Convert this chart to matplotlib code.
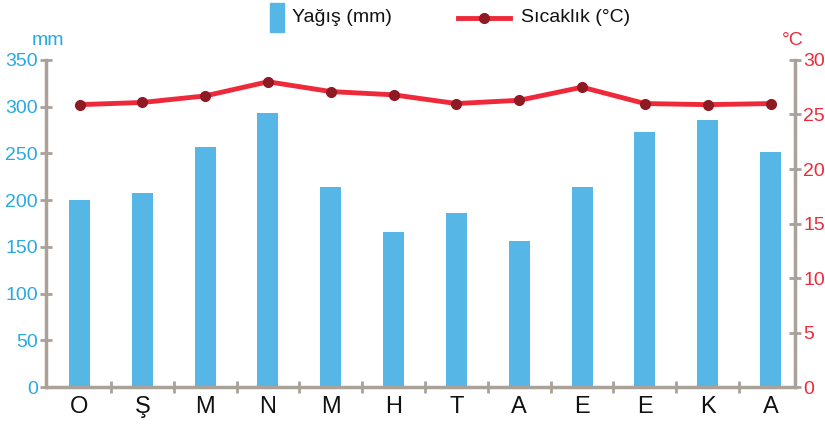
import matplotlib
matplotlib.use('Agg')
import matplotlib.pyplot as plt
import numpy as np
from matplotlib.lines import Line2D
from matplotlib.patches import Rectangle

plt.rcParams['font.family'] = ['Liberation Sans', 'DejaVu Sans']

months = ['O', 'Ş', 'M', 'N', 'M', 'H', 'T', 'A', 'E', 'E', 'K', 'A']
rain = [200, 208, 257, 293, 214, 166, 186, 156, 214, 273, 286, 251]
temp = [25.9, 26.1, 26.7, 28.0, 27.1, 26.8, 26.0, 26.3, 27.5, 26.0, 25.9, 26.0]

BLUE = '#56b7e6'
LBLUE = '#29a9e0'
RED = '#ee2a3a'
DRED = '#8e1a24'
GRAY = '#aaa198'

fig = plt.figure(figsize=(8.25, 4.25), dpi=100)
ax = fig.add_axes([0.0558, 0.089, 0.9079, 0.77])
ax2 = ax.twinx()

x = np.arange(len(months))
ax.bar(x, rain, width=0.334, color=BLUE, zorder=2)
ax2.plot(x, temp, color=RED, lw=3.5, marker='o', ms=7,
         markerfacecolor=DRED, markeredgecolor=DRED, zorder=3)

ax.set_xlim(-0.533, len(months) - 0.61)
ax.set_ylim(0, 350)
ax2.set_ylim(0, 30)
ax.set_yticks(range(0, 351, 50))
ax2.set_yticks(range(0, 31, 5))
ax.set_xticks(x)
ax.set_xticklabels(months, fontsize=17, color='#111111')
ax.set_xticks(np.arange(0.5, len(months) - 0.5, 1), minor=True)
ax.tick_params(axis='x', which='major', length=0, pad=6)
ax.tick_params(axis='x', which='minor', length=8, direction='inout', width=2, color=GRAY)
ax.tick_params(axis='y', labelsize=14, labelcolor=LBLUE, length=8,
               direction='inout', width=2, color=GRAY, pad=2)
ax2.tick_params(axis='y', labelsize=14, labelcolor=RED, length=8,
                direction='inout', width=2, color=GRAY, pad=2)

for a in (ax, ax2):
    for s in a.spines.values():
        s.set_visible(False)
ax.spines['left'].set_visible(True)
ax.spines['bottom'].set_visible(True)
ax2.spines['right'].set_visible(True)
for s in (ax.spines['left'], ax.spines['bottom'], ax2.spines['right']):
    s.set_color(GRAY)
    s.set_linewidth(2.5)
ax.spines['bottom'].set_zorder(5)

fig.text(0.058, 0.905, 'mm', color=LBLUE, fontsize=14, ha='center', va='center')
fig.text(0.961, 0.905, '°C', color=RED, fontsize=14, ha='center', va='center')

# legend drawn by hand in figure coords
fig.patches.append(Rectangle((0.327, 0.925), 0.017, 0.068, color=BLUE,
                             transform=fig.transFigure, figure=fig))
fig.text(0.354, 0.958, 'Yağış (mm)', fontsize=14, va='center', color='#111111')
fig.lines.append(Line2D([0.555, 0.618], [0.958, 0.958], color=RED, lw=3.5,
                        transform=fig.transFigure, figure=fig))
fig.lines.append(Line2D([0.5865], [0.958], marker='o', ms=7, color=DRED,
                        transform=fig.transFigure, figure=fig))
fig.text(0.631, 0.958, 'Sıcaklık (°C)', fontsize=14, va='center', color='#111111')

fig.savefig('out.png', dpi=100)
